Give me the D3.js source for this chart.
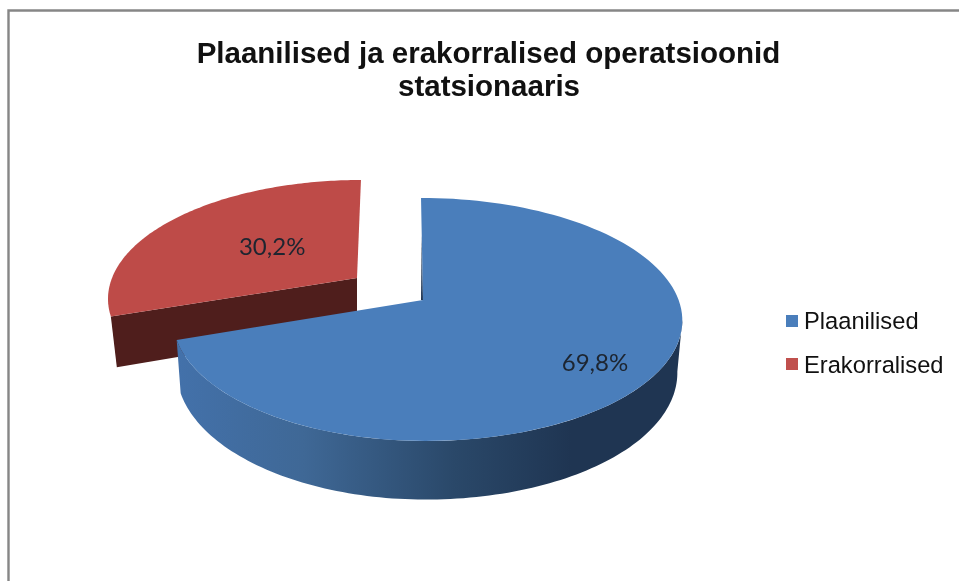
<!DOCTYPE html>
<html>
<head>
<meta charset="utf-8">
<script src="https://cdn.jsdelivr.net/npm/d3@7"></script>
<style>html,body{margin:0;padding:0;background:#fff;overflow:hidden}svg{display:block;filter:blur(.45px)}</style>
</head>
<body>
<script>
const categories = ["Plaanilised", "Erakorralised"];
const values = [69.8, 30.2];
const valueLabels = ["69,8%", "30,2%"];
const titleLines = ["Plaanilised ja erakorralised operatsioonid", "statsionaaris"];

const colors = { top: ["#4a7ebb", "#be4b48"], legend: ["#4a7ebb", "#c0504d"], redFace: "#4f1e1c", sliver: "#1f3552" };
const p = 0.16;
const blueTop  = { x: 423, y: 300, al: 247.5, ar: 255.6, b: 118.4, s: 2.3 };
const blueBase = { x: 423, y: 351, al: 243.5, ar: 250.7, b: 124.8, s: 2.3 };
const redTop   = { x: 357, y: 278, al: 245, ar: 245, b: 113.7, s: -4.6 };
const redBase  = { x: 357, y: 327, al: 239, ar: 239, b: 118.7, s: -4.6 };
const labelR = [0.76, 0.45];
const labelDy = [15, 6];

function proj(g, ang, r = 1) {
  const u = r * Math.sin(ang), v = -r * Math.cos(ang), den = 1 - p * v;
  return [g.x + ((u < 0 ? g.al : g.ar) * u + g.s * v) / den, g.y + g.b * v / den];
}
function arcPts(g, a0, a1, n = 120) {
  return d3.range(n + 1).map(i => proj(g, a0 + (a1 - a0) * i / n));
}

const W = 959, H = 581;
const svg = d3.select("body").append("svg").attr("width", W).attr("height", H);
const defs = svg.append("defs");
const grad = defs.append("linearGradient").attr("id", "wall");
[[0, "#4371aa"], [0.25, "#3f6896"], [0.55, "#2a4869"], [0.78, "#1f3552"], [1, "#1f3552"]]
  .forEach(([o, c]) => grad.append("stop").attr("offset", o).attr("stop-color", c));

// frame
svg.append("path").attr("d", `M8.5,${H + 5}V10.5H${W + 5}`).attr("fill", "none").attr("stroke", "#868686").attr("stroke-width", 2.4);

// title
svg.append("g").selectAll("text").data(titleLines).join("text")
  .attr("x", (d, i) => i ? 489 : 488.5).attr("y", (d, i) => i ? 96 : 63)
  .attr("text-anchor", "middle").attr("font-family", "Liberation Sans").attr("font-weight", "bold")
  .attr("font-size", 29.5).attr("fill", "#111").text(d => d);

const arcs = d3.pie().sort(null)(values);
const line = d3.line();
const poly = pts => line(pts) + "Z";
const blue = arcs[0], red = arcs[1];
const g = svg.append("g");

// exploded slice: cut face, then top
g.append("path").attr("fill", colors.redFace).attr("d", poly([
  proj(redTop, 0, 0), proj(redTop, red.startAngle), proj(redBase, red.startAngle), proj(redBase, 0, 0)
]));
g.append("path").attr("fill", colors.top[1]).attr("d", poly([
  proj(redTop, 0, 0), ...arcPts(redTop, red.startAngle, red.endAngle)
]));

// main slice: outer wall, thin inner sliver, top
const tangent = Math.acos(-p);
g.append("path").attr("fill", "url(#wall)").attr("d", poly([
  ...arcPts(blueTop, tangent, blue.endAngle), ...arcPts(blueBase, blue.endAngle, tangent)
]));
g.append("path").attr("fill", colors.sliver).attr("d", poly([
  proj(blueTop, 0, 0.6), proj(blueTop, 0, 0), proj({ ...blueTop, x: blueTop.x - 2 }, 0, 0)
]));
g.append("path").attr("fill", colors.top[0]).attr("d", poly([
  proj(blueTop, 0, 0), ...arcPts(blueTop, blue.startAngle, blue.endAngle)
]));

// value labels
[blue, red].forEach((a, i) => {
  const mid = (a.startAngle + a.endAngle) / 2;
  const [x, y] = proj(i ? redTop : blueTop, mid, labelR[i]);
  svg.append("text").attr("x", x + (i ? 0 : 1)).attr("y", y + labelDy[i]).attr("text-anchor", "middle")
    .attr("font-family", "Lato").attr("font-size", 24).attr("fill", "#1d2530").text(valueLabels[i]);
});

// legend
const lg = svg.append("g");
categories.forEach((c, i) => {
  const y = i ? 358 : 315;
  lg.append("rect").attr("x", 786).attr("y", y).attr("width", 12).attr("height", 12).attr("fill", colors.legend[i]);
  lg.append("text").attr("x", 804).attr("y", y + (i ? 15 : 14)).attr("font-family", "Liberation Sans")
    .attr("font-size", 23.7).attr("fill", "#111").text(c);
});
</script>
</body>
</html>
